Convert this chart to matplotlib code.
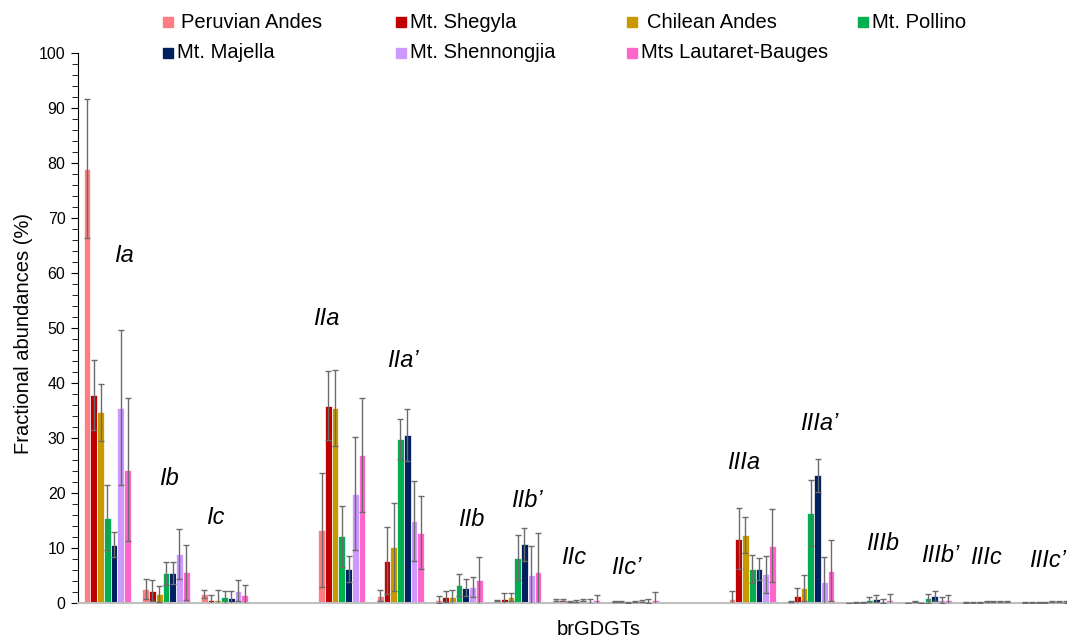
import numpy as np
import matplotlib.pyplot as plt
from matplotlib.patches import Rectangle

plt.rcParams["font.family"] = ["Liberation Sans", "DejaVu Sans"]

# brGDGT compounds (a gap slot is left between the I, II and III families)
groups = ["Ia", "Ib", "Ic",
          "IIa", "IIa\u2019", "IIb", "IIb\u2019", "IIc", "IIc\u2019",
          "IIIa", "IIIa\u2019", "IIIb", "IIIb\u2019", "IIIc", "IIIc\u2019"]

sites = ["Peruvian Andes", "Mt. Shegyla", "Chilean Andes", "Mt. Pollino",
         "Mt. Majella", "Mt. Shennongjia", "Mts Lautaret-Bauges"]
colors = ["#FF7C80", "#C00000", "#C99A00", "#00B050",
          "#002060", "#CC99FF", "#FF66CC"]

# mean fractional abundances (%)
peruvian = [79.0, 2.6, 1.6, 13.3, 1.3, 0.6, 0.4, 0.6, 0.25, 0.7, 0.25, 0.05, 0.05, 0.1, 0.1]
shegyla = [37.8, 2.2, 0.6, 35.9, 7.7, 1.1, 0.8, 0.6, 0.25, 11.7, 1.2, 0.1, 0.25, 0.1, 0.1]
chilean = [34.7, 1.6, 0.6, 35.5, 10.1, 1.1, 1.1, 0.25, 0.1, 12.3, 2.7, 0.1, 0.05, 0.1, 0.1]
pollino = [15.5, 5.4, 1.0, 12.1, 29.8, 3.3, 8.2, 0.35, 0.25, 6.2, 16.3, 0.6, 0.85, 0.2, 0.15]
majella = [10.6, 5.4, 0.9, 6.2, 30.5, 2.8, 10.7, 0.5, 0.35, 6.2, 23.2, 0.8, 1.2, 0.25, 0.2]
shennongjia = [35.5, 8.9, 2.2, 19.9, 14.9, 2.9, 5.0, 0.35, 0.35, 5.2, 3.9, 0.35, 0.5, 0.2, 0.2]
lautaret = [24.2, 5.6, 1.5, 26.9, 12.8, 4.1, 5.6, 0.6, 0.55, 10.4, 5.9, 0.6, 0.6, 0.2, 0.2]

# standard deviations
peruvian_sd = [12.7, 1.8, 0.7, 10.4, 1.0, 0.6, 0.1, 0.2, 0.05, 1.5, 0.1, 0.02, 0.02, 0.03, 0.03]
shegyla_sd = [6.4, 1.9, 0.9, 6.3, 6.1, 1.0, 1.1, 0.2, 0.05, 5.6, 1.6, 0.05, 0.1, 0.05, 0.05]
chilean_sd = [5.2, 1.5, 1.7, 6.9, 8.0, 1.2, 0.8, 0.1, 0.05, 3.3, 2.4, 0.05, 0.02, 0.05, 0.05]
pollino_sd = [5.9, 2.1, 1.1, 5.6, 3.7, 2.0, 4.1, 0.2, 0.1, 2.6, 6.0, 0.4, 0.85, 0.1, 0.1]
majella_sd = [2.3, 2.0, 1.3, 2.3, 4.7, 1.5, 3.0, 0.2, 0.25, 2.0, 3.0, 0.6, 0.9, 0.1, 0.1]
shennongjia_sd = [14.1, 4.5, 1.9, 10.3, 7.2, 1.9, 5.3, 0.45, 0.35, 3.4, 4.4, 0.35, 0.5, 0.1, 0.1]
lautaret_sd = [13.0, 5.0, 1.8, 10.4, 6.7, 4.2, 7.2, 0.9, 1.45, 6.6, 5.5, 1.1, 0.85, 0.1, 0.15]

means = [peruvian, shegyla, chilean, pollino, majella, shennongjia, lautaret]
sds = [peruvian_sd, shegyla_sd, chilean_sd, pollino_sd, majella_sd, shennongjia_sd, lautaret_sd]

# label placement (slot offset, height in %)
label_pos = [(0.28, 63.1), (1.05, 22.7), (1.85, 15.5),
             (3.73, 51.8), (5.05, 44.0), (6.20, 15.1), (7.15, 18.7), (7.96, 8.2), (8.86, 6.4),
             (10.86, 25.6), (12.15, 32.7), (13.22, 10.9), (14.20, 8.7), (14.98, 8.2), (16.04, 7.8)]

# x slot for every group: one empty slot between families
x = []
slot = 0
prev = None
for g in groups:
    fam = g.rstrip("abc\u2019")
    if prev is not None and fam != prev:
        slot += 1
    x.append(slot)
    slot += 1
    prev = fam
x = np.array(x, dtype=float)

fig = plt.figure(figsize=(10.67, 6.41), dpi=100)
ax = fig.add_axes([0.0731, 0.0593, 0.9269, 0.858])

w = 0.115
for i in range(len(sites)):
    ax.bar(x + (i - 3) * w, means[i], w, color=colors[i], edgecolor="white",
           linewidth=0.5, zorder=2)
    ax.errorbar(x + (i - 3) * w, means[i], yerr=sds[i], fmt="none",
                ecolor="#6b6b6b", elinewidth=1.0, capsize=2.5, capthick=1.0, zorder=3)

for g, (lx, ly) in zip(groups, label_pos):
    ax.text(lx, ly, g, fontsize=17, style="italic", ha="center", va="center")

ax.set_xlim(-0.5, 16.37)
ax.set_ylim(0, 100)
ax.set_yticks(np.arange(0, 101, 10))
ax.set_yticks(np.arange(0, 101, 2), minor=True)
ax.tick_params(axis="y", which="major", direction="out", length=5, labelsize=11.5, pad=4)
ax.tick_params(axis="y", which="minor", direction="out", length=4)
ax.set_xticks([])
for s in ["top", "right"]:
    ax.spines[s].set_visible(False)
ax.spines["bottom"].set_color("#bfbfbf")
ax.spines["bottom"].set_linewidth(1.5)
ax.spines["left"].set_color("black")
ax.set_ylabel("Fractional abundances (%)", fontsize=14.5)
ax.yaxis.set_label_coords(-0.046, 0.49)
ax.set_xlabel("brGDGTs", fontsize=14.5)
ax.xaxis.set_label_coords(0.526, -0.031)

# legend laid out like the original (two rows)
leg_cols = [168, 401, 632, 863]
leg_rows = [22, 53]
text_dx = [13, 9, 15, 9, 9, 9, 9]
for i, (name, c) in enumerate(zip(sites, colors)):
    r, col = (0, i) if i < 4 else (1, i - 4)
    px, py = leg_cols[col], leg_rows[r]
    fig.patches.append(Rectangle(((px - 5) / 1067, 1 - (py + 5) / 641), 10 / 1067, 10 / 641,
                                 transform=fig.transFigure, color=c))
    fig.text((px + text_dx[i]) / 1067, 1 - py / 641, name, fontsize=14.5, va="center", ha="left")

fig.savefig("out.png", dpi=100)
